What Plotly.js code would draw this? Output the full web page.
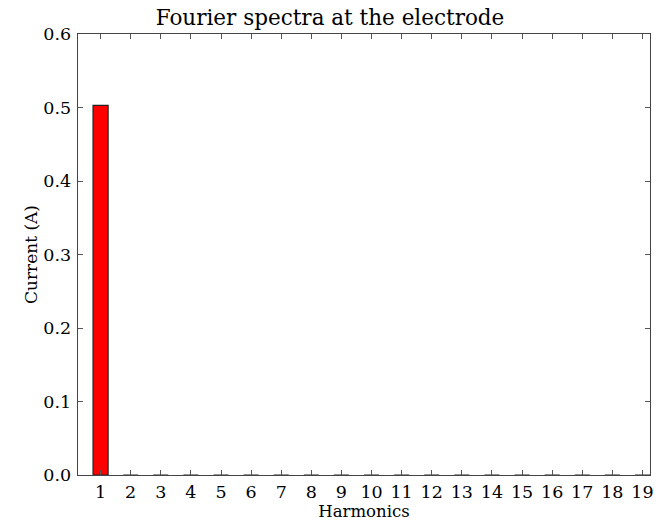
<!DOCTYPE html>
<html>
<head>
<meta charset="utf-8">
<script src="https://cdn.plot.ly/plotly-3.0.1.min.js"></script>
<style>html,body{margin:0;padding:0;background:#fff;}#chart{width:660px;height:523px;}</style>
</head>
<body>
<div id="chart"></div>
<script>
const harmonics = [1,2,3,4,5,6,7,8,9,10,11,12,13,14,15,16,17,18,19];
const currents = [0.503,0,0,0,0,0,0,0,0,0,0,0,0,0,0,0,0,0,0];
const yTicks = [0.0,0.1,0.2,0.3,0.4,0.5,0.6];
const yTickLabels = ["0.0","0.1","0.2","0.3","0.4","0.5","0.6"];

const font = {family: "DejaVu Serif", color: "#000"};
const trace = {
  type: "bar",
  x: harmonics,
  y: currents,
  width: 0.5,
  marker: {color: "#ff0000", line: {color: "#222", width: 1.2}},
  hoverinfo: "skip"
};
const axisCommon = {
  showline: true, mirror: "ticks", linecolor: "#444", linewidth: 1.3,
  ticks: "inside", ticklen: 5, tickcolor: "#555", tickwidth: 1,
  showgrid: false, zeroline: false,
  tickfont: {family: "DejaVu Serif", size: 17.5, color: "#000"}
};
const layout = {
  width: 660, height: 523,
  margin: {l: 78, r: 10, t: 34, b: 48},
  paper_bgcolor: "#fff", plot_bgcolor: "#fff",
  showlegend: false,
  font: font,
  title: {text: "Fourier spectra at the electrode", font: {family: "DejaVu Serif", size: 21.5, color: "#000"}, x: 0.5, xanchor: "center", y: 0.967, yanchor: "middle"},
  xaxis: Object.assign({}, axisCommon, {
    range: [0.25, 19.25],
    tickvals: harmonics,
    ticktext: harmonics.map(String),
    ticklabelstandoff: 1,
    title: {text: "Harmonics", font: {family: "DejaVu Serif", size: 16.5, color: "#000"}, standoff: 3}
  }),
  yaxis: Object.assign({}, axisCommon, {
    range: [0, 0.6],
    tickvals: yTicks,
    ticktext: yTickLabels,
    ticklabelstandoff: 2,
    title: {text: "Current (A)", font: {family: "DejaVu Serif", size: 17, color: "#000"}, standoff: 1}
  })
};
Plotly.newPlot("chart", [trace], layout, {displayModeBar: false, staticPlot: true});
</script>
</body>
</html>
